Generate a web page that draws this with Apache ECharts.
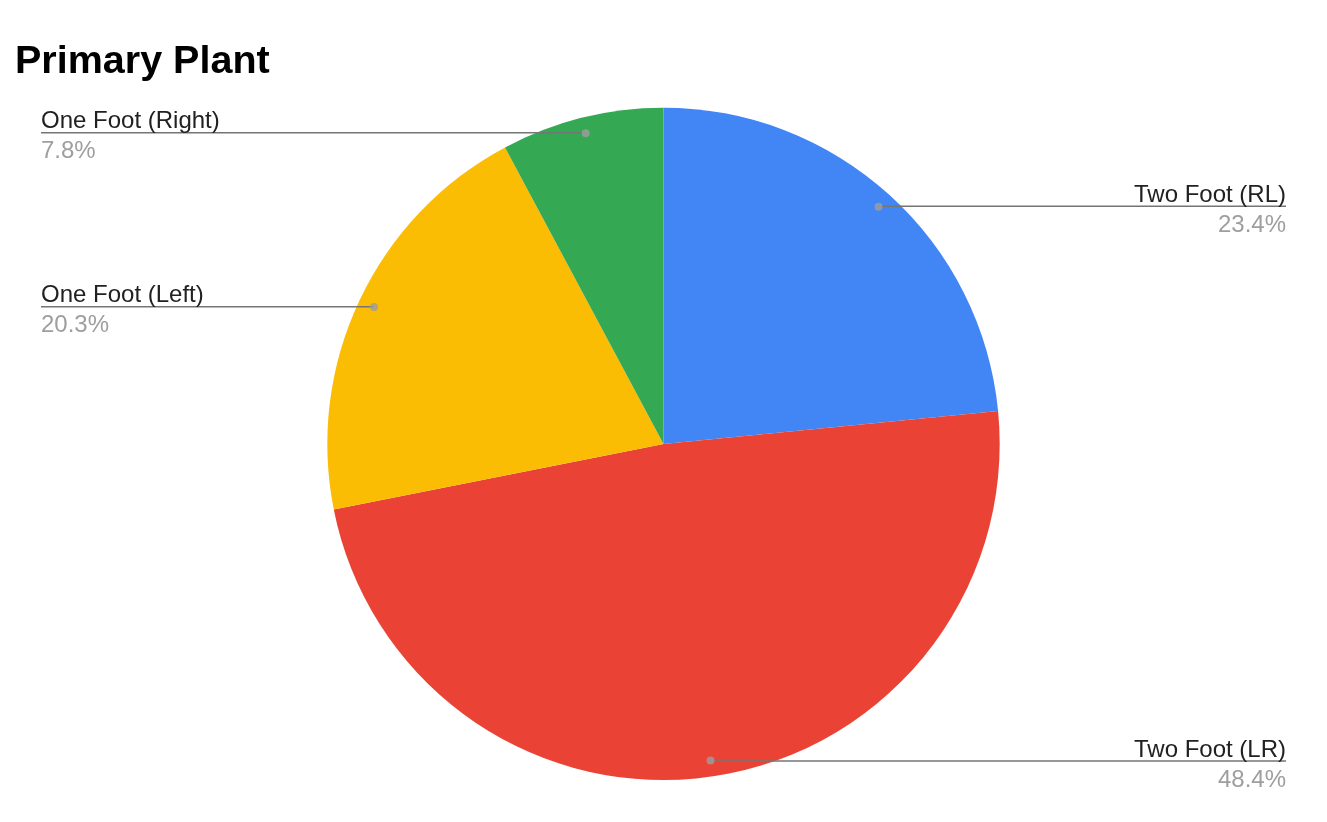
<!DOCTYPE html>
<html>
<head>
<meta charset="utf-8">
<script src="https://cdn.jsdelivr.net/npm/echarts@6/dist/echarts.min.js"></script>
<style>
html,body{margin:0;padding:0;background:#fff;}
#chart{width:1327px;height:822px;}
</style>
</head>
<body>
<div id="chart"></div>
<script>
const titleText = 'Primary Plant';
const categories = ['Two Foot (RL)', 'Two Foot (LR)', 'One Foot (Left)', 'One Foot (Right)'];
const counts = [15, 31, 13, 5];
const colors = ['#4285F4', '#EA4335', '#FBBC04', '#34A853'];

const chart = echarts.init(document.getElementById('chart'));
const FONT = 'Arial, "Liberation Sans", sans-serif';

const pieData = categories.map((c, i) => ({ name: c, value: counts[i] }));
const total = counts.reduce((a, b) => a + b, 0);
const dotData = [];
let cum = 0;
counts.forEach(v => { dotData.push([1, cum + v / 2]); cum += v; });

const CENTER = ['50%', '54%'];
const OUTER = '81.8%';
const INNER = '77.9%';

chart.setOption({
  backgroundColor: '#ffffff',
  animation: false,
  title: {
    text: titleText,
    left: 15,
    top: 42,
    padding: 0,
    textStyle: { fontFamily: FONT, fontSize: 39.5, fontWeight: 'bold', color: '#000000' }
  },
  polar: { center: CENTER, radius: INNER },
  angleAxis: { type: 'value', min: 0, max: total, startAngle: 90, clockwise: true, show: false },
  radiusAxis: { type: 'value', min: 0, max: 1, show: false },
  color: colors,
  series: [
    {
      type: 'pie',
      z: 1,
      center: CENTER,
      radius: OUTER,
      startAngle: 90,
      clockwise: true,
      silent: true,
      label: { show: false },
      labelLine: { show: false },
      itemStyle: { borderWidth: 0 },
      data: pieData
    },
    {
      type: 'pie',
      z: 3,
      center: CENTER,
      radius: INNER,
      startAngle: 90,
      clockwise: true,
      silent: true,
      itemStyle: { color: 'rgba(0,0,0,0)', borderWidth: 0 },
      label: {
        show: true,
        position: 'outside',
        alignTo: 'edge',
        edgeDistance: 41,
        distanceToLabelLine: 4,
        padding: [8, 0, 0, 0],
        fontFamily: FONT,
        formatter: p => '{name|' + p.name + '}\n{pct|' + p.percent.toFixed(1) + '%}',
        rich: {
          name: { fontFamily: FONT, fontSize: 24, lineHeight: 30, color: '#212121' },
          pct: { fontFamily: FONT, fontSize: 24, lineHeight: 30, color: '#9e9e9e' }
        }
      },
      labelLine: {
        show: true,
        length: 0.5,
        length2: 20,
        lineStyle: { color: '#757575', width: 1.5 }
      },
      labelLayout: function (params) {
        const pts = params.labelLinePoints;
        if (!pts) return {};
        const isLeft = params.labelRect.x < chart.getWidth() / 2;
        pts[2][0] = isLeft ? params.labelRect.x : params.labelRect.x + params.labelRect.width;
        return { labelLinePoints: pts };
      },
      data: pieData
    },
    {
      type: 'scatter',
      coordinateSystem: 'polar',
      silent: true,
      symbol: 'circle',
      symbolSize: 8,
      itemStyle: { color: '#9e9e9e' },
      z: 5,
      data: dotData
    }
  ]
});
</script>
</body>
</html>
